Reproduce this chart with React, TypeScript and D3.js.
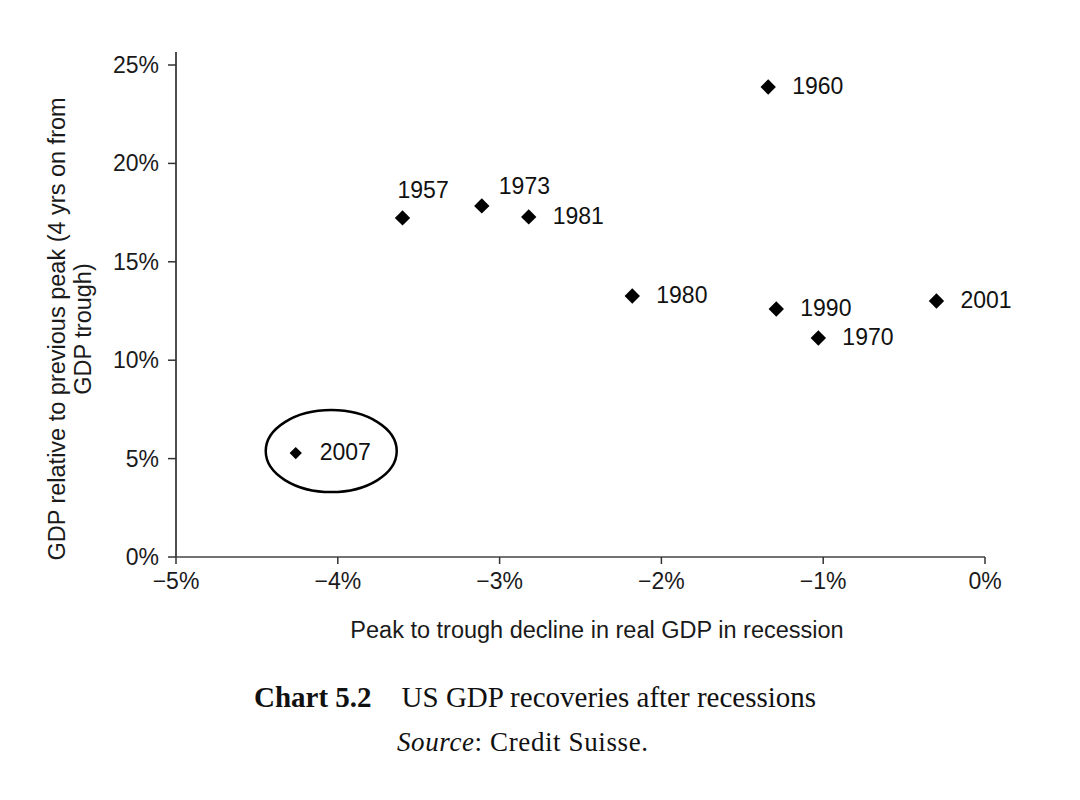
import React from "react";
import * as d3 from "d3";

const years = ["1960", "1957", "1973", "1981", "1980", "1990", "1970", "2001", "2007"];
const declines = [-1.34, -3.6, -3.11, -2.82, -2.18, -1.29, -1.03, -0.3, -4.26];
const recoveries = [23.88, 17.23, 17.84, 17.28, 13.26, 12.6, 11.13, 13.01, 5.28];
const xTicks = [-5, -4, -3, -2, -1, 0];
const yTicks = [0, 5, 10, 15, 20, 25];
const highlightYear = "2007";

const labelOffsets: Record<string, [number, number]> = {
  "1957": [-5, -28],
  "1973": [17, -20],
};

const W = 1080;
const H = 800;
const x = d3.scaleLinear().domain([-5, 0]).range([176, 985]);
const y = d3.scaleLinear().domain([0, 25]).range([557, 65]);

const fmt = (v: number) => (v < 0 ? "\u2212" + Math.abs(v) : String(v)) + "%";

export default function App() {
  const sans = "'Liberation Sans', Arial, sans-serif";
  const serif = "'Liberation Serif', 'Times New Roman', serif";
  const diamond = (size: number) => d3.symbol(d3.symbolSquare, size)() as string;
  return (
    <svg width={W} height={H} style={{ position: "absolute", left: 0, top: 0, background: "#fff" }}>
      <rect width={W} height={H} fill="#fff" />
      <line x1={x(-5)} x2={x(-5)} y1={52} y2={y(0)} stroke="#222" strokeWidth={1.6} />
      <line x1={x(-5)} x2={x(0)} y1={y(0)} y2={y(0)} stroke="#444" strokeWidth={1.6} />
      {yTicks.map((t) => (
        <g key={"y" + t}>
          <line x1={x(-5) - 8} x2={x(-5)} y1={y(t)} y2={y(t)} stroke="#333" strokeWidth={1.5} />
          <text x={x(-5) - 17} y={y(t)} dy="0.35em" textAnchor="end" fontFamily={sans} fontSize={23} fill="#1a1a1a">
            {t + "%"}
          </text>
        </g>
      ))}
      {xTicks.map((t) => (
        <g key={"x" + t}>
          <line x1={x(t)} x2={x(t)} y1={y(0)} y2={y(0) + 7} stroke="#333" strokeWidth={1.5} />
          <text x={x(t)} y={y(0) + 32} textAnchor="middle" fontFamily={sans} fontSize={23} fill="#1a1a1a">
            {fmt(t)}
          </text>
        </g>
      ))}
      <text x={597} y={638} textAnchor="middle" fontFamily={sans} fontSize={23.5} fill="#1a1a1a">
        Peak to trough decline in real GDP in recession
      </text>
      <g transform="translate(0,329) rotate(-90)">
        <text x={0} y={65} textAnchor="middle" fontFamily={sans} fontSize={23.5} fill="#1a1a1a">
          GDP relative to previous peak (4 yrs on from
        </text>
        <text x={0} y={91} textAnchor="middle" fontFamily={sans} fontSize={23.5} fill="#1a1a1a">
          GDP trough)
        </text>
      </g>
      {years.map((yr, i) => {
        const px = x(declines[i]);
        const py = y(recoveries[i]);
        const small = yr === highlightYear;
        const off = labelOffsets[yr] || [24, -1];
        return (
          <g key={yr}>
            <path d={diamond(small ? 75 : 118)} transform={`translate(${px},${py}) rotate(45)`} fill="#000" />
            <text x={px + off[0]} y={py + off[1]} dy="0.35em" fontFamily={sans} fontSize={23} fill="#111">
              {yr}
            </text>
            {small && (
              <ellipse cx={px + 35.5} cy={py - 2} rx={65.5} ry={41} fill="none" stroke="#000" strokeWidth={2.5} />
            )}
          </g>
        );
      })}
      <text x={254} y={707} fontFamily={serif} fontSize={29} fill="#111">
        <tspan fontWeight="bold">Chart 5.2</tspan>
        <tspan dx={30}>US GDP recoveries after recessions</tspan>
      </text>
      <text x={397} y={751} fontFamily={serif} fontSize={27} fill="#111" textLength={251} lengthAdjust="spacing">
        <tspan fontStyle="italic">Source</tspan>
        <tspan>: Credit Suisse.</tspan>
      </text>
    </svg>
  );
}
